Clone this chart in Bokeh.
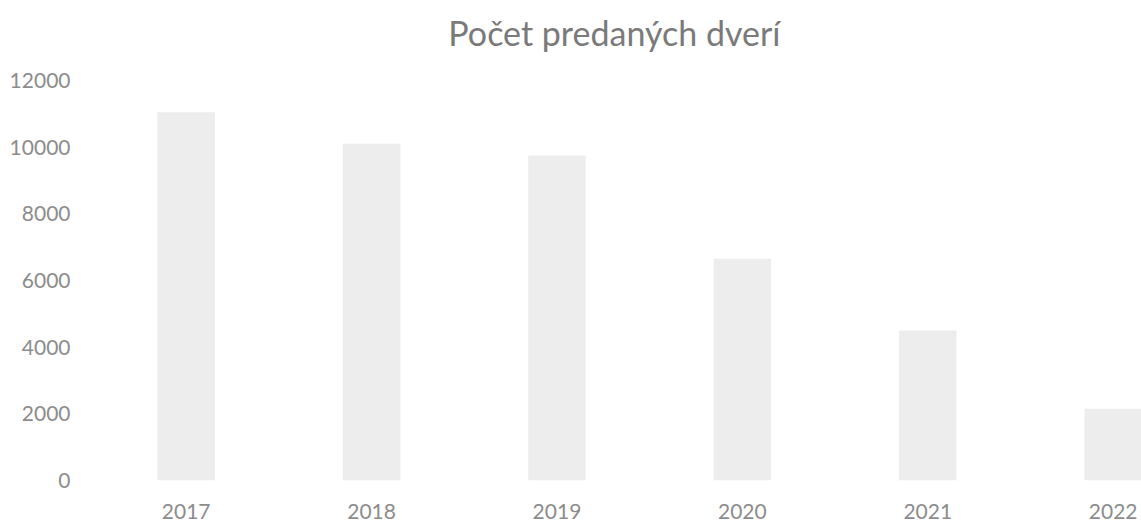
from bokeh.plotting import figure
from bokeh.models import ColumnDataSource, FixedTicker, Range1d, Label
from bokeh.embed import file_html
from bokeh.resources import INLINE

title_text = "Počet predaných dverí"
years = ["2017", "2018", "2019", "2020", "2021", "2022"]
doors = [11050, 10100, 9750, 6650, 4500, 2150]
y_ticks = [0, 2000, 4000, 6000, 8000, 10000, 12000]

src = ColumnDataSource(dict(x=list(range(len(years))), top=doors, year=years))

# frame spans the full height above the x axis; the extra headroom above 12000 holds the title
p = figure(width=1141, height=524, output_backend="svg", toolbar_location=None,
           x_range=Range1d(-0.5, 5.153), y_range=Range1d(0, 14400),
           min_border_left=93, min_border_right=0, min_border_bottom=44, min_border_top=0)

p.vbar(x="x", top="top", width=0.31, source=src, fill_color="#ededed", line_color=None)

title = Label(x=2.31, y=13440, text=title_text, text_font="Lato", text_font_size="34px",
              text_color="#7a7a7a", text_align="center", text_baseline="alphabetic")
p.add_layout(title)

p.outline_line_color = None
p.xgrid.visible = False
p.ygrid.visible = False
p.background_fill_color = "white"
p.border_fill_color = "white"

for ax in (p.xaxis[0], p.yaxis[0]):
    ax.axis_line_color = None
    ax.major_tick_line_color = None
    ax.minor_tick_line_color = None
    ax.major_tick_out = 0
    ax.major_tick_in = 0
    ax.minor_tick_out = 0
    ax.major_label_text_font = "Lato"
    ax.major_label_text_font_size = "21px"
    ax.major_label_text_color = "#8c8c8c"

p.xaxis.ticker = FixedTicker(ticks=list(range(len(years))))
p.xaxis.major_label_overrides = {i: y for i, y in enumerate(years)}
p.xaxis.major_label_standoff = 23
p.yaxis.ticker = FixedTicker(ticks=y_ticks)
p.yaxis.major_label_standoff = 23

open("out.html", "w").write(file_html(p, INLINE))
